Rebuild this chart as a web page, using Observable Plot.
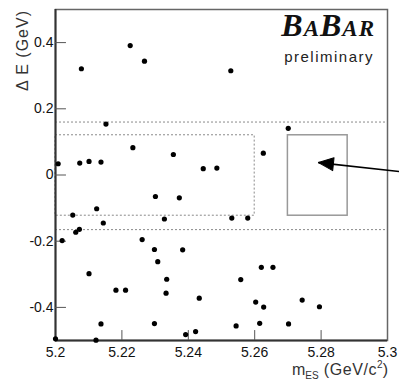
<!DOCTYPE html>
<html><head><meta charset="utf-8">
<script src="https://cdn.jsdelivr.net/npm/d3@7"></script>
<script src="https://cdn.jsdelivr.net/npm/@observablehq/plot@0.6"></script>
<style>html,body{margin:0;padding:0;background:#fff} svg{display:block}</style>
</head><body><div id="chart"></div>
<script>
// Event candidates: m_ES (GeV/c^2) and Delta E (GeV)
const mES = [5.2225,5.2078,5.2152,5.2233,5.2008,5.2073,5.2101,5.2137,5.2268,5.2355,5.2445,5.2486,5.2528,5.2701,5.2626,
  5.2124,5.2052,5.2144,5.2061,5.2072,5.2020,5.2101,5.2182,5.2211,5.2137,5.2000,5.2122,
  5.2301,5.2373,5.2328,5.2261,5.2298,5.2383,5.2308,5.2335,5.2333,5.2433,5.2298,5.2392,5.2422,
  5.2531,5.2579,5.2620,5.2655,5.2558,5.2603,5.2627,5.2743,5.2544,5.2615,5.2702,5.2795];
const deltaE = [0.391,0.321,0.154,0.0825,0.034,0.036,0.041,0.039,0.344,0.062,0.019,0.021,0.315,0.141,0.066,
  -0.102,-0.121,-0.145,-0.173,-0.164,-0.198,-0.298,-0.348,-0.348,-0.450,-0.495,-0.499,
  -0.065,-0.069,-0.133,-0.195,-0.225,-0.226,-0.262,-0.315,-0.357,-0.372,-0.449,-0.482,-0.473,
  -0.130,-0.130,-0.279,-0.279,-0.316,-0.384,-0.399,-0.378,-0.456,-0.448,-0.450,-0.398];

const xDomain = [5.2, 5.3];
const yDomain = [-0.5, 0.5];
const xTicks = [5.2, 5.22, 5.24, 5.26, 5.28, 5.3];
const xTickLabels = ["5.2", "5.22", "5.24", "5.26", "5.28", "5.3"];
const xInnerTicks = [5.22, 5.24, 5.26, 5.28];
const yTicks = [-0.4, -0.2, 0, 0.2, 0.4];
const yTickLabels = ["-0.4", "-0.2", "0", "0.2", "0.4"];

// Region boundaries
const bandY = [0.16, -0.165];
const sideboxX = [5.2, 5.26];
const sideboxY = [-0.123, 0.12];
const signalX = [5.27, 5.288];
const signalY = [-0.123, 0.12];
const arrowTail = [5.3038, 0.010];
const arrowTip = [5.2792, 0.0375];

const points = mES.map((m, i) => ({m, de: deltaE[i]}));

const plot = Plot.plot({
  width: 399,
  height: 381,
  marginLeft: 55,
  marginRight: 12,
  marginTop: 9,
  marginBottom: 41,
  style: {fontFamily: "'Liberation Sans', Arial, sans-serif", fontSize: "14px", color: "#222", background: "#fff", overflow: "visible"},
  x: {domain: xDomain, label: null},
  y: {domain: yDomain, label: null},
  marks: [
    Plot.ruleY(bandY, {stroke: "#8a8a8a", strokeWidth: 1, strokeDasharray: "2,2"}),
    Plot.rect([{x1: sideboxX[0], x2: sideboxX[1], y1: sideboxY[0], y2: sideboxY[1]}],
      {x1: "x1", x2: "x2", y1: "y1", y2: "y2", fill: "none", stroke: "#8a8a8a", strokeWidth: 1, strokeDasharray: "2,2"}),
    Plot.rect([{x1: signalX[0], x2: signalX[1], y1: signalY[0], y2: signalY[1]}],
      {x1: "x1", x2: "x2", y1: "y1", y2: "y2", fill: "none", stroke: "#999", strokeWidth: 1.5}),
    Plot.frame({stroke: "#666", strokeWidth: 1.5}),
    Plot.ruleX([xDomain[0]], {stroke: "#333", strokeWidth: 2}),
    Plot.ruleY([yDomain[0]], {stroke: "#333", strokeWidth: 2}),
    Plot.ruleX(xInnerTicks, {y1: yDomain[0], y2: yDomain[0] + 0.03, stroke: "#555", strokeWidth: 1}),
    Plot.ruleY(yTicks, {x1: xDomain[0], x2: xDomain[0] + 0.0033, stroke: "#555", strokeWidth: 1}),
    Plot.axisX({ticks: xTicks, tickFormat: d => xTickLabels[xTicks.indexOf(d)], tickSize: 0, tickPadding: 7, fill: "#111", fontSize: 14}),
    Plot.axisY({ticks: yTicks, tickFormat: d => yTickLabels[yTicks.indexOf(d)], tickSize: 0, tickPadding: 2, fill: "#111", fontSize: 14}),
    Plot.dot(points, {x: "m", y: "de", r: 2.6, fill: "#000", stroke: "none"}),
    Plot.link([{x1: arrowTail[0], y1: arrowTail[1], x2: arrowTip[0], y2: arrowTip[1]}],
      {x1: "x1", y1: "y1", x2: "x2", y2: "y2", stroke: "#000", strokeWidth: 1.6, clip: false}),
    Plot.vector([{x: arrowTip[0], y: arrowTip[1]}], {
      x: "x", y: "y", anchor: "end", length: 15, rotate: 276,
      shape: {draw(ctx, l) { ctx.moveTo(0, -l); ctx.lineTo(-6.5, 0); ctx.lineTo(6.5, 0); ctx.closePath(); }},
      fill: "#000", stroke: "#000", strokeWidth: 1
    })
  ]
});

const svg = d3.select(plot);
// Y axis title
svg.append("text")
  .attr("transform", "translate(28,10) rotate(-90)")
  .attr("text-anchor", "end")
  .attr("font-family", "'Liberation Sans', Arial, sans-serif")
  .attr("font-size", 16)
  .attr("fill", "#333")
  .attr("letter-spacing", "1")
  .text("Δ E (GeV)");

// X axis title
const xl = svg.append("text")
  .attr("x", 388).attr("y", 375)
  .attr("text-anchor", "end")
  .attr("font-family", "'Liberation Sans', Arial, sans-serif")
  .attr("font-size", 16)
  .attr("fill", "#333");
xl.append("tspan").text("m");
xl.append("tspan").attr("font-size", 10).attr("dy", 4).text("ES");
xl.append("tspan").attr("dy", -4).attr("letter-spacing", "0.6").text(" (GeV/c");
xl.append("tspan").attr("font-size", 10).attr("dy", -7).text("2");
xl.append("tspan").attr("dy", 7).text(")");

// BABAR logo
const logo = svg.append("text")
  .attr("x", 375).attr("y", 36)
  .attr("text-anchor", "end")
  .attr("font-family", "'Liberation Serif', 'DejaVu Serif', serif")
  .attr("font-weight", "bold")
  .attr("font-style", "italic")
  .attr("letter-spacing", "1")
  .attr("fill", "#111");
[["B", 32], ["A", 23], ["B", 32], ["A", 23], ["R", 23]].forEach(([c, s]) =>
  logo.append("tspan").attr("font-size", s).text(c));
svg.append("text")
  .attr("x", 374).attr("y", 62)
  .attr("text-anchor", "end")
  .attr("font-family", "'Liberation Sans', Arial, sans-serif")
  .attr("font-size", 15)
  .attr("letter-spacing", "1.5")
  .attr("fill", "#222")
  .text("preliminary");

document.getElementById("chart").appendChild(plot);
</script>
</body></html>
